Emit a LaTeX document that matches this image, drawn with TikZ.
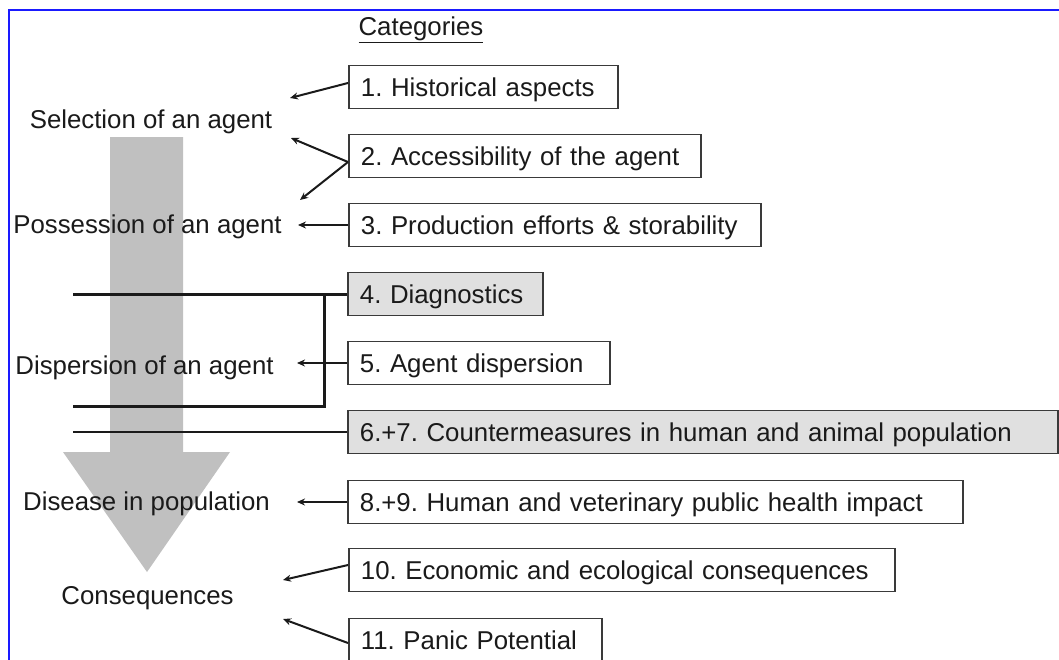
\documentclass[tikz,border=0pt]{standalone}
\usepackage{fontspec}
\setmainfont{Liberation Sans}
\frenchspacing
\usetikzlibrary{arrows.meta,calc}
\definecolor{ink}{HTML}{1A1A1A}
\definecolor{frameblue}{HTML}{1A1AFF}
\definecolor{flow}{HTML}{C0C0C0}
\definecolor{boxline}{HTML}{3A3A3A}
\definecolor{shade}{HTML}{E0E0E0}
\begin{document}
\begin{tikzpicture}[x=1pt,y=-1pt,
  every node/.style={font=\fontsize{25.8}{30}\selectfont, text=ink, inner sep=0pt},
  cat/.style={draw=boxline, line width=1.8pt, anchor=west, minimum height=43pt,
    inner xsep=12pt, text height=18.5pt, text depth=0pt, align=left},
  stage/.style={text height=18.5pt, text depth=0pt},
  link/.style={draw=ink, line width=2pt, -{Stealth[length=8pt,width=7pt]}},
  bar/.style={draw=ink, line width=3pt},
  rail/.style={draw=ink, line width=2.2pt},
]
\useasboundingbox (0,0) rectangle (1059,659);
\clip (0,0) rectangle (1059,659);
\fill[white] (0,0) rectangle (1059,659);

% frame
\draw[frameblue, line width=2pt] (9,662) -- (9,10) -- (1062,10);

% big downward flow arrow
\fill[flow] (110,137) -- (183,137) -- (183,452) -- (230,452) -- (147,572)
  -- (63,452) -- (110,452) -- cycle;

% heading
\node[stage] (head) at (421,26.5) {\underline{Categories}};

% stages on the left
\node[stage] (s1) at (151,118.75) {Selection of an agent};
\node[stage] (s2) at (147.5,223.75) {Possession of an agent};
\node[stage] (s3) at (144.5,364.75) {Dispersion of an agent};
\node[stage] (s4) at (146.5,500.75) {Disease in population};
\node[stage] (s5) at (147.5,594.75) {Consequences};

% category boxes
\node[cat, text width=245pt] (b1) at (348,87) {1. Historical aspects};
\node[cat, text width=328pt] (b2) at (348,156) {2. Accessibility of the agent};
\node[cat, text width=388pt] (b3) at (348,225) {3. Production efforts \& storability};
\node[cat, text width=171pt, fill=shade] (b4) at (347,294) {4. Diagnostics};
\node[cat, text width=238pt] (b5) at (347,363) {5. Agent dispersion};
\node[cat, text width=686pt, fill=shade] (b6) at (347,432) {6.+7. Countermeasures in human and animal population};
\node[cat, text width=591pt] (b8) at (347,502) {8.+9. Human and veterinary public health impact};
\node[cat, text width=522pt] (b10) at (348,570) {10. Economic and ecological consequences};
\node[cat, text width=229pt] (b11) at (348,640) {11. Panic Potential};

% arrow tips and line ends
\coordinate (t1) at (290,98);
\coordinate (t2a) at (291,138);
\coordinate (t2b) at (300,200);
\coordinate (t3) at (298,225);
\coordinate (t5) at (297,363);
\coordinate (t8) at (297,502);
\coordinate (t10) at (283,580);
\coordinate (t11) at (283,619);
\coordinate (d1) at (73,294);
\coordinate (jt) at (324,294);
\coordinate (jb) at (324,406);
\coordinate (d2) at (73,406);
\coordinate (d3) at (73,432);

% connectors
\draw[link] ($(b1.west)+(0,-4)$) -- (t1);
\draw[link] ($(b2.west)+(0,6)$) -- (t2a);
\draw[link] ($(b2.west)+(0,6)$) -- (t2b);
\draw[link] (b3.west) -- (t3);
\draw[link] (b5.west) -- (t5);
\draw[link] (b8.west) -- (t8);
\draw[link] ($(b10.west)+(0,-5)$) -- (t10);
\draw[link] ($(b11.west)+(0,3)$) -- (t11);

% brackets across the flow
\draw[bar] (d1) -- (b4.west);
\draw[bar] (d2) -- (jb) -- (jt);
\draw[rail] (d3) -- (b6.west);
\end{tikzpicture}
\end{document}
